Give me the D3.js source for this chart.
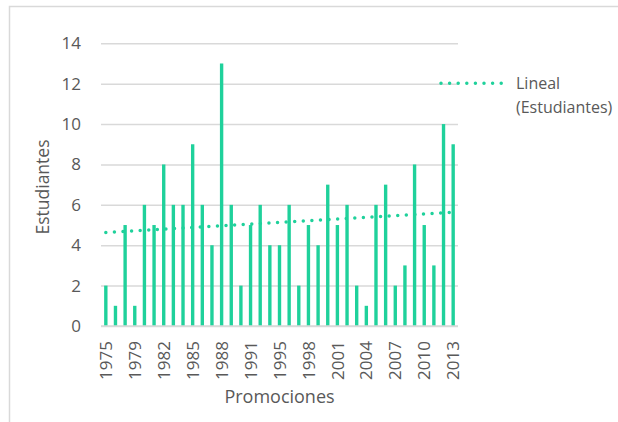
<!DOCTYPE html>
<html>
<head>
<meta charset="utf-8">
<script src="https://cdn.jsdelivr.net/npm/d3@7"></script>
<style>
  body { margin: 0; background: #fff; }
  svg { font-family: "Open Sans", sans-serif; }
</style>
</head>
<body>
<script>
// promociones (solo se rotulan una de cada tres)
var years = [1975, 1976, 1977, 1979, 1980, 1981, 1982, 1983, 1984, 1985,
  1986, 1987, 1988, 1989, 1990, 1991, 1992, 1994, 1995, 1996,
  1997, 1998, 1999, 2000, 2001, 2002, 2003, 2004, 2005, 2006,
  2007, 2008, 2009, 2010, 2011, 2012, 2013];
var students = [2, 1, 5, 1, 6, 5, 8, 6, 6, 9,
  6, 4, 13, 6, 2, 5, 6, 4, 4, 6,
  2, 5, 4, 7, 5, 6, 2, 1, 6, 7,
  2, 3, 8, 5, 3, 10, 9];
var yTicks = [0, 2, 4, 6, 8, 10, 12, 14];
var legendLabel = ["Lineal", "(Estudiantes)"];

var width = 618, height = 422;
var pLeft = 101, pRight = 458, pTop = 43.3, pBottom = 326;
var green = "#1fd19b", textColor = "#595959", gridColor = "#d9d9d9";

var svg = d3.select("body").append("svg")
  .attr("width", width)
  .attr("height", height);

/* marco del gráfico */
svg.append("path")
  .attr("d", "M9.5," + height + "V6.5H" + width)
  .attr("fill", "none")
  .attr("stroke", gridColor)
  .attr("stroke-width", 1.5);

var x = d3.scaleBand()
  .domain(years)
  .range([pLeft, pRight])
  .paddingInner(0.65)
  .paddingOuter(0.325);

var y = d3.scaleLinear()
  .domain([0, 14])
  .range([pBottom, pTop]);

/* rejilla y eje Y */
var yAxis = svg.append("g")
  .attr("transform", "translate(" + pLeft + ",0)")
  .call(d3.axisLeft(y).tickValues(yTicks).tickSize(-(pRight - pLeft)).tickPadding(20));
yAxis.select(".domain").remove();
yAxis.selectAll(".tick line").attr("stroke", gridColor).attr("stroke-width", 1.5);
yAxis.selectAll(".tick text")
  .attr("fill", textColor)
  .style("font-size", "17px")
  .style("font-family", "Open Sans");

/* barras */
svg.append("g")
  .selectAll("rect")
  .data(students)
  .enter().append("rect")
  .attr("x", function (d, i) { return x(years[i]); })
  .attr("y", function (d) { return y(d); })
  .attr("width", x.bandwidth())
  .attr("height", function (d) { return y(0) - y(d); })
  .attr("fill", green);

/* eje X: una etiqueta cada tres promociones */
var xAxis = svg.append("g")
  .attr("transform", "translate(0," + pBottom + ")")
  .call(d3.axisBottom(x)
    .tickValues(years.filter(function (d, i) { return i % 3 === 0; }))
    .tickSize(0));
xAxis.select(".domain").attr("stroke", gridColor).attr("stroke-width", 1.5)
  .attr("d", "M" + pLeft + ",0H" + pRight);
xAxis.selectAll(".tick text")
  .attr("fill", textColor)
  .style("font-size", "17px")
  .style("font-family", "Open Sans")
  .attr("transform", "rotate(-90)")
  .attr("text-anchor", "end")
  .attr("x", -15)
  .attr("y", 0)
  .attr("dy", "0.36em");

/* línea de tendencia lineal (mínimos cuadrados) */
var n = students.length;
var mx = d3.mean(students, function (d, i) { return i; });
var my = d3.mean(students);
var sxy = d3.sum(students, function (d, i) { return (i - mx) * (d - my); });
var sxx = d3.sum(students, function (d, i) { return (i - mx) * (i - mx); });
var slope = sxy / sxx, intercept = my - slope * mx;
var trend = [0, n - 1].map(function (i) {
  return [x(years[i]) + x.bandwidth() / 2, y(intercept + slope * i)];
});

svg.append("path")
  .attr("d", d3.line()(trend))
  .attr("fill", "none")
  .attr("stroke", green)
  .attr("stroke-width", 3.5)
  .attr("stroke-linecap", "round")
  .attr("stroke-dasharray", "0,8.6");

/* leyenda */
svg.append("line")
  .attr("x1", 441).attr("x2", 503)
  .attr("y1", 83.3).attr("y2", 83.3)
  .attr("stroke", green)
  .attr("stroke-width", 3.5)
  .attr("stroke-linecap", "round")
  .attr("stroke-dasharray", "0,8.6");

svg.append("g").selectAll("text")
  .data(legendLabel)
  .enter().append("text")
  .attr("x", 516)
  .attr("y", function (d, i) { return 89 + i * 24; })
  .attr("fill", textColor)
  .style("font-size", "16px")
  .text(function (d) { return d; });

/* títulos de ejes */
svg.append("text")
  .attr("x", (pLeft + pRight) / 2)
  .attr("y", 403)
  .attr("text-anchor", "middle")
  .attr("fill", textColor)
  .style("font-size", "18px")
  .text("Promociones");

svg.append("text")
  .attr("transform", "translate(49,187) rotate(-90)")
  .attr("text-anchor", "middle")
  .attr("fill", textColor)
  .style("font-size", "17.5px")
  .text("Estudiantes");
</script>
</body>
</html>
